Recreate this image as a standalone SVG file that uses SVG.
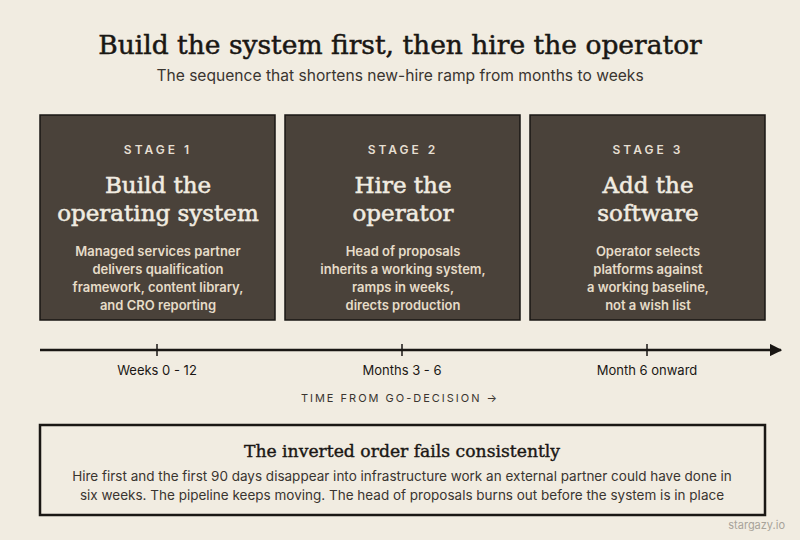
<svg xmlns="http://www.w3.org/2000/svg" width="800" height="540" viewBox="0 0 800 540">
<defs>
<style>
.serif{font-family:"DejaVu Serif","Liberation Serif",serif;}
.sans{font-family:Inter,"Liberation Sans",sans-serif;}
.title{font-size:26.5px;fill:#1a1714;stroke:#1a1714;stroke-width:0.5px;}
.sub{font-size:15.6px;fill:#3a3530;}
.box{fill:#4a423a;stroke:#1a1714;stroke-width:1.5;}
.stage{font-size:12px;letter-spacing:3px;fill:#e6dfd2;font-weight:600;}
.head{font-size:23px;fill:#f1ece1;stroke:#f1ece1;stroke-width:0.55px;}
.body{font-size:13px;fill:#e6dcc8;font-weight:600;}
.tl{font-size:13px;fill:#1a1714;}
.axis{font-size:11px;letter-spacing:2px;fill:#3a3530;}
.note{font-size:13.5px;fill:#3a3530;}
</style>
<marker id="arr" viewBox="0 0 10 10" refX="9" refY="5" markerWidth="5" markerHeight="5" orient="auto" markerUnits="strokeWidth"><path d="M0,0 L10,5 L0,10 z" fill="#1a1714"/></marker>
</defs>
<rect width="800" height="540" fill="#f1ece1"/>
<text class="serif title" x="400" y="54" text-anchor="middle">Build the system first, then hire the operator</text>
<text class="sans sub" x="400" y="81" text-anchor="middle">The sequence that shortens new-hire ramp from months to weeks</text>

<g id="stage1">
<rect class="box" x="40" y="115" width="235" height="205"/>
<text class="sans stage" x="158" y="154" text-anchor="middle">STAGE 1</text>
<text class="serif head" x="158" y="193" text-anchor="middle">Build the</text>
<text class="serif head" x="158" y="221" text-anchor="middle">operating system</text>
<text class="sans body" x="158" y="256" text-anchor="middle">Managed services partner</text>
<text class="sans body" x="158" y="274" text-anchor="middle">delivers qualification</text>
<text class="sans body" x="158" y="292" text-anchor="middle">framework, content library,</text>
<text class="sans body" x="158" y="310" text-anchor="middle">and CRO reporting</text>
</g>
<g id="stage2">
<rect class="box" x="285" y="115" width="235" height="205"/>
<text class="sans stage" x="403" y="154" text-anchor="middle">STAGE 2</text>
<text class="serif head" x="403" y="193" text-anchor="middle">Hire the</text>
<text class="serif head" x="403" y="221" text-anchor="middle">operator</text>
<text class="sans body" x="403" y="256" text-anchor="middle">Head of proposals</text>
<text class="sans body" x="403" y="274" text-anchor="middle">inherits a working system,</text>
<text class="sans body" x="403" y="292" text-anchor="middle">ramps in weeks,</text>
<text class="sans body" x="403" y="310" text-anchor="middle">directs production</text>
</g>
<g id="stage3">
<rect class="box" x="530" y="115" width="235" height="205"/>
<text class="sans stage" x="648" y="154" text-anchor="middle">STAGE 3</text>
<text class="serif head" x="648" y="193" text-anchor="middle">Add the</text>
<text class="serif head" x="648" y="221" text-anchor="middle">software</text>
<text class="sans body" x="648" y="256" text-anchor="middle">Operator selects</text>
<text class="sans body" x="648" y="274" text-anchor="middle">platforms against</text>
<text class="sans body" x="648" y="292" text-anchor="middle">a working baseline,</text>
<text class="sans body" x="648" y="310" text-anchor="middle">not a wish list</text>
</g>

<g id="connectors">
<line x1="40" y1="350" x2="781" y2="350" stroke="#1a1714" stroke-width="2.5" marker-end="url(#arr)"/>
<line x1="157" y1="344" x2="157" y2="356" stroke="#1a1714" stroke-width="1.5"/>
<line x1="402" y1="344" x2="402" y2="356" stroke="#1a1714" stroke-width="1.5"/>
<line x1="647" y1="344" x2="647" y2="356" stroke="#1a1714" stroke-width="1.5"/>
</g>
<g id="timeline-labels">
<text class="sans tl" x="157" y="375" text-anchor="middle">Weeks 0 - 12</text>
<text class="sans tl" x="402" y="375" text-anchor="middle">Months 3 - 6</text>
<text class="sans tl" x="647" y="375" text-anchor="middle">Month 6 onward</text>
<text class="sans axis" x="400" y="402" text-anchor="middle">TIME FROM GO-DECISION →</text>
</g>

<g id="note">
<rect x="40" y="425" width="725" height="90" fill="none" stroke="#1a1714" stroke-width="2.5"/>
<text class="serif" x="402" y="457" text-anchor="middle" font-size="17.2" fill="#1a1714" stroke="#1a1714" stroke-width="0.4">The inverted order fails consistently</text>
<text class="sans note" x="402" y="481" text-anchor="middle">Hire first and the first 90 days disappear into infrastructure work an external partner could have done in</text>
<text class="sans note" x="402" y="500" text-anchor="middle">six weeks. The pipeline keeps moving. The head of proposals burns out before the system is in place</text>
</g>
<text class="sans" x="785" y="529" text-anchor="end" font-size="11" fill="#a8a39a">stargazy.io</text>
</svg>
